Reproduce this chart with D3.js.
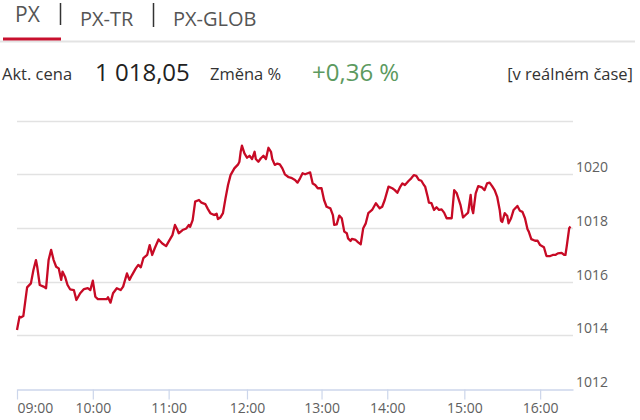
<!DOCTYPE html>
<html>
<head>
<meta charset="utf-8">
<script src="https://cdn.jsdelivr.net/npm/d3@7"></script>
<style>
  html, body { margin: 0; padding: 0; background: #fff; }
  svg text { font-family: "Open Sans", "Noto Sans", sans-serif; }
</style>
</head>
<body>
<svg id="chart" width="640" height="420"></svg>
<script>
// ---- data ----
const tabs = ["PX", "PX-TR", "PX-GLOB"];
const priceLabel = "Akt. cena";
const priceValue = "1 018,05";
const changeLabel = "Změna %";
const changeValue = "+0,36 %";
const realtimeLabel = "[v reálném čase]";

// ordinal position of each sample (trading minutes, gaps removed)
const positions = [0,2,3,5,7,8,11,13,15,16,18,21,23,25,27,29,31,33,35,36,38,40,42,45,47,50,53,56,58,60,62,64,67,71,72,74,76,79,82,84,87,89,91,94,96,98,100,103,105,107,109,112,115,118,120,123,125,127,128,131,134,136,137,139,141,144,146,149,151,153,156,158,159,161,163,165,167,169,172,175,176,177,178,180,182,184,186,188,189,191,193,195,197,199,201,202,204,206,208,210,212,215,217,220,222,224,226,228,230,232,234,236,238,241,243,245,248,250,251,253,255,257,259,261,262,264,265,268,270,272,274,276,278,281,284,287,289,291,294,297,299,301,303,305,307,310,312,314,316,318,320,322,323,325,326,328,330,332,334,336,338,340,342,344,346,348,351,353,355,357,359,360,361,363,365,368,370,372,374,376,378,380,382,383,384,386,388,389,391,393,396,398,400,402,404,405,407,410,412,414,417,419,422,424,426,428,431,433,434,435,437,438];
const values = [1014.19,1014.69,1014.66,1014.71,1015.43,1015.78,1015.93,1016.43,1016.80,1016.55,1015.87,1015.81,1015.75,1016.80,1017.18,1016.80,1016.55,1016.49,1016.06,1016.37,1016.18,1015.87,1015.71,1015.68,1015.31,1015.56,1015.72,1015.75,1015.68,1016.03,1015.43,1015.34,1015.34,1015.34,1015.41,1015.21,1015.56,1015.75,1015.68,1015.81,1016.30,1016.06,1016.24,1016.49,1016.62,1016.53,1016.87,1016.99,1017.36,1016.99,1017.24,1017.57,1017.42,1017.32,1017.49,1017.73,1018.11,1017.92,1017.80,1017.92,1017.98,1018.11,1018.04,1018.29,1018.98,1019.04,1018.94,1018.89,1018.71,1018.55,1018.48,1018.53,1018.33,1018.39,1018.55,1019.10,1019.60,1019.97,1020.22,1020.37,1020.47,1020.84,1021.07,1020.78,1020.62,1020.69,1020.57,1020.84,1020.57,1020.47,1020.60,1020.69,1020.57,1020.99,1020.84,1020.57,1020.35,1020.40,1020.37,1020.22,1020.00,1019.89,1019.87,1019.79,1019.69,1019.85,1020.04,1020.00,1020.04,1020.07,1019.66,1019.60,1019.48,1019.48,1019.04,1018.79,1018.73,1018.48,1018.11,1018.13,1018.46,1018.36,1017.86,1017.80,1017.61,1017.51,1017.59,1017.55,1017.46,1017.39,1017.99,1018.17,1018.55,1018.67,1018.92,1018.73,1018.79,1019.04,1019.54,1019.48,1019.41,1019.31,1019.51,1019.66,1019.60,1019.76,1019.85,1019.97,1019.94,1019.79,1019.76,1019.60,1019.54,1019.16,1018.94,1018.92,1018.67,1018.77,1018.67,1018.69,1018.57,1018.36,1018.36,1018.36,1019.41,1019.29,1018.85,1018.39,1018.48,1018.57,1019.23,1018.73,1018.55,1019.29,1019.56,1019.51,1019.41,1019.66,1019.69,1019.56,1019.41,1019.16,1018.67,1018.27,1018.22,1018.55,1018.44,1018.17,1018.36,1018.67,1018.82,1018.64,1018.60,1018.36,1017.95,1017.86,1017.58,1017.52,1017.52,1017.36,1017.28,1016.95,1016.95,1016.99,1016.99,1017.05,1017.07,1016.99,1016.99,1017.30,1017.99,1018.05];

const xTickPositions = [0, 60, 120, 182, 241, 293, 354, 414];
const xTickLabels = ["09:00", "10:00", "11:00", "12:00", "13:00", "14:00", "15:00", "16:00"];
const yTicks = [1012, 1014, 1016, 1018, 1020, 1022];
const yLabelTicks = [1012, 1014, 1016, 1018, 1020];
const xDomain = [0, 440];
const yDomain = [1012, 1022];

// ---- drawing ----
const svg = d3.select("#chart");
const plotLeft = 17, plotRight = 573, plotTop = 120.7, plotBottom = 388.7;

const x = d3.scaleLinear().domain(xDomain).range([plotLeft, plotRight]);
const y = d3.scaleLinear().domain(yDomain).range([plotBottom, plotTop]);

// header tabs
svg.append("line").attr("x1", 0).attr("x2", 635).attr("y1", 41.5).attr("y2", 41.5)
  .attr("stroke", "#e3e3e3").attr("stroke-width", 2);
svg.append("rect").attr("x", 3).attr("y", 37.5).attr("width", 58).attr("height", 3).attr("fill", "#c8102e");

svg.append("text").attr("x", 15).attr("y", 22).attr("font-size", 21).attr("fill", "#555").text(tabs[0]);
svg.append("line").attr("x1", 60.5).attr("x2", 60.5).attr("y1", 3).attr("y2", 25).attr("stroke", "#333").attr("stroke-width", 1.5);
svg.append("text").attr("x", 80).attr("y", 25.7).attr("font-size", 20).attr("fill", "#555").text(tabs[1]);
svg.append("line").attr("x1", 153.5).attr("x2", 153.5).attr("y1", 3).attr("y2", 27).attr("stroke", "#333").attr("stroke-width", 1.5);
svg.append("text").attr("x", 173).attr("y", 25.7).attr("font-size", 20).attr("fill", "#555").text(tabs[2]);

// price row
svg.append("text").attr("x", 2).attr("y", 80).attr("font-size", 16.5).attr("fill", "#333").text(priceLabel);
svg.append("text").attr("x", 95).attr("y", 81).attr("font-size", 24).attr("fill", "#222").text(priceValue);
svg.append("text").attr("x", 210).attr("y", 80).attr("font-size", 16.5).attr("fill", "#333").text(changeLabel);
svg.append("text").attr("x", 312).attr("y", 81).attr("font-size", 24).attr("fill", "#5c9a5f").text(changeValue);
svg.append("text").attr("x", 633).attr("y", 80).attr("text-anchor", "end").attr("font-size", 16.5).attr("fill", "#333").text(realtimeLabel);

// gridlines
svg.append("g").selectAll("line").data(yTicks.filter(d => d !== yDomain[0])).join("line")
  .attr("x1", plotLeft).attr("x2", plotRight)
  .attr("y1", d => Math.round(y(d)) + 0.5).attr("y2", d => Math.round(y(d)) + 0.5)
  .attr("stroke", "#e2e2e2").attr("stroke-width", 1.5);

// y labels
svg.append("g").selectAll("text").data(yLabelTicks).join("text")
  .attr("x", 576).attr("y", d => y(d) - 2)
  .attr("font-size", 14).attr("fill", "#606060").text(d => d);

// x axis
const xAxis = d3.axisBottom(x)
  .tickValues(xTickPositions)
  .tickFormat((d, i) => xTickLabels[i])
  .tickSize(10)
  .tickSizeOuter(0);
const gx = svg.append("g").attr("transform", `translate(0,${Math.round(plotBottom) + 0.5})`).call(xAxis);
gx.select(".domain").attr("stroke", "#ccd6eb").attr("stroke-width", 1.5);
gx.selectAll(".tick line").attr("stroke", "#ccd6eb").attr("stroke-width", 1.2);
gx.selectAll(".tick text")
  .attr("font-family", '"Open Sans", sans-serif')
  .attr("font-size", 14).attr("fill", "#606060").attr("dy", null).attr("y", 23.5)
  .attr("text-anchor", (d, i) => i === 0 ? "start" : "middle");

// line
const pts = positions.map((p, i) => [p, values[i]]);
const line = d3.line().x(d => x(d[0])).y(d => y(d[1]));
svg.append("path").datum(pts).attr("d", line)
  .attr("fill", "none").attr("stroke", "#c70a25").attr("stroke-width", 2.3)
  .attr("stroke-linejoin", "round");
</script>
</body>
</html>
